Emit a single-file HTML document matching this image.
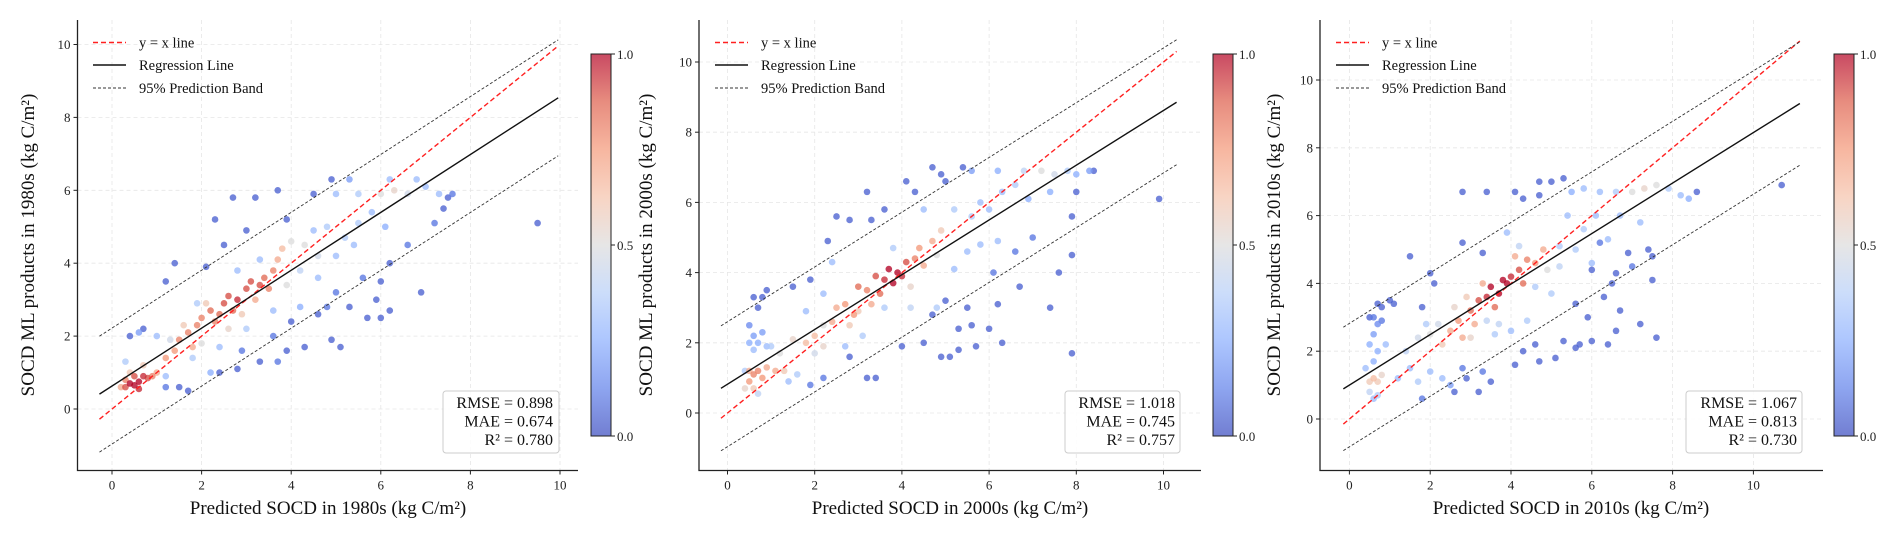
<!DOCTYPE html>
<html><head><meta charset="utf-8">
<style>
html,body{margin:0;padding:0;background:#fff;}
svg{display:block;font-family:"Liberation Serif",serif;}
</style></head>
<body>
<svg id="chart" width="1892" height="539" viewBox="0 0 1892 539" xmlns="http://www.w3.org/2000/svg">
<defs>
<linearGradient id="cw" x1="0" y1="1" x2="0" y2="0">
<stop offset="0" stop-color="#3b4cc0" stop-opacity="0.72"/>
<stop offset="0.125" stop-color="#6282ea" stop-opacity="0.72"/>
<stop offset="0.25" stop-color="#8db0fe" stop-opacity="0.72"/>
<stop offset="0.375" stop-color="#b8d0f9" stop-opacity="0.72"/>
<stop offset="0.5" stop-color="#dddcdc" stop-opacity="0.72"/>
<stop offset="0.625" stop-color="#f5c4ad" stop-opacity="0.72"/>
<stop offset="0.75" stop-color="#f49a7b" stop-opacity="0.72"/>
<stop offset="0.875" stop-color="#de604d" stop-opacity="0.72"/>
<stop offset="1" stop-color="#b40426" stop-opacity="0.72"/>
</linearGradient>
</defs>
</svg>
<script>
// ---- data (x = predicted, y = ML product, d = density 0..1) ----
const xTicks = [0,2,4,6,8,10];
const yTicks = [0,2,4,6,8,10];
const cbTicks = ["0.0","0.5","1.0"];
const cbTickVals = [0,0.5,1];
const legendLabels = ["y = x line","Regression Line","95% Prediction Band"];

const p1Title = "1980s";
const p1Stats = ["RMSE = 0.898","MAE = 0.674","R² = 0.780"];
const p1Reg = [0.794, 0.63, 1.59]; // slope, intercept, band half-width
const p1Range = [-0.28, 9.96];
const p1x=[0.3,0.4,0.5,0.6,0.7,0.5,0.8,0.3,0.6,0.9,0.4,0.2,1.0,0.7,1.2,1.4,1.5,1.7,1.9,2.0,2.2,2.4,2.5,2.6,2.8,2.7,3.0,3.1,3.3,3.4,3.6,3.7,3.5,2.3,1.8,2.9,3.2,1.6,2.1,3.8,4.0,4.3,4.6,3.9,2.6,2.0,1.3,4.8,5.2,5.5,5.0,5.5,6.0,6.3,6.6,7.0,7.3,6.8,6.2,5.3,4.5,4.2,4.6,5.0,3.6,3.0,2.4,1.8,2.2,4.2,5.4,5.8,6.1,3.3,2.8,1.9,1.0,0.6,0.3,1.2,0.4,0.7,1.4,1.2,2.1,2.3,2.7,3.2,3.7,3.9,3.0,2.5,4.5,4.9,5.9,6.2,6.0,5.7,5.1,4.9,4.3,3.9,3.3,2.8,2.4,1.7,1.5,1.2,6.9,7.5,7.6,9.5,6.2,5.3,4.6,4.0,3.6,7.4,6.6,7.2,5.6,6.0,5.0,4.8,3.7,2.9];
const p1y=[0.6,0.7,0.65,0.75,0.9,0.9,0.85,0.8,0.55,0.9,1.0,0.6,1.0,1.2,1.4,1.6,1.9,2.1,2.3,2.5,2.7,2.6,2.9,3.1,3.0,2.7,3.3,3.5,3.4,3.6,3.8,4.1,3.3,2.4,1.7,2.6,3.0,2.3,2.9,4.4,4.6,4.5,4.2,3.4,2.2,1.8,1.9,5.0,4.7,5.1,5.9,5.9,5.9,6.0,5.9,6.1,5.9,6.3,6.3,6.3,4.9,3.8,3.6,4.2,2.7,2.2,1.7,1.4,1.0,2.8,4.5,5.4,5.0,4.1,3.8,2.9,2.0,2.1,1.3,0.9,2.0,2.2,4.0,3.5,3.9,5.2,5.8,5.8,6.0,5.2,4.9,4.5,5.9,6.3,3.0,2.7,2.5,2.5,1.7,1.9,1.7,1.6,1.3,1.1,1.0,0.5,0.6,0.6,3.2,5.8,5.9,5.1,4.0,2.8,2.6,2.4,2.0,5.5,4.5,5.1,3.6,3.5,3.2,2.8,1.3,1.6];
const p1d=[0.9,1,1,1,0.95,0.9,0.9,0.8,0.95,0.8,0.6,0.7,0.7,0.6,0.75,0.75,0.8,0.8,0.8,0.8,0.85,0.85,0.9,0.9,0.95,0.85,0.9,0.9,0.9,0.85,0.8,0.7,0.8,0.8,0.7,0.6,0.7,0.6,0.6,0.65,0.5,0.5,0.45,0.5,0.55,0.5,0.45,0.35,0.35,0.35,0.3,0.35,0.5,0.55,0.45,0.3,0.3,0.3,0.3,0.2,0.3,0.4,0.3,0.3,0.3,0.35,0.3,0.35,0.25,0.25,0.3,0.3,0.25,0.3,0.3,0.35,0.3,0.2,0.35,0.3,0.05,0.05,0.05,0.05,0.05,0.05,0.05,0.05,0.05,0.05,0.05,0.05,0.05,0.05,0.05,0.05,0.05,0.05,0.05,0.05,0.05,0.05,0.05,0.05,0.05,0.05,0.05,0.1,0.05,0.05,0.1,0.05,0.05,0.05,0.05,0.05,0.1,0.05,0.1,0.1,0.1,0.05,0.1,0.1,0.1,0.1];

const p2Title = "2000s";
const p2Stats = ["RMSE = 1.018","MAE = 0.745","R² = 0.757"];
const p2Reg = [0.78, 0.82, 1.78];
const p2Range = [-0.15, 10.3];
const p2x=[0.5,0.6,0.7,0.8,0.5,0.9,1.1,0.6,0.4,1.3,0.7,0.5,0.6,0.7,0.6,0.8,0.7,0.8,0.9,0.6,0.5,0.9,0.4,1.2,1.5,1.8,2.0,2.2,2.4,2.5,2.7,2.9,3.0,3.2,3.4,3.6,3.7,3.8,3.9,4.0,4.1,3.5,4.3,4.5,4.4,4.7,4.9,3.3,2.8,2.2,3.0,4.2,4.8,2.0,1.6,1.4,5.2,5.6,5.8,6.0,6.3,6.6,6.8,7.2,7.5,7.8,8.0,8.3,6.2,5.6,5.2,5.5,6.2,4.8,4.2,3.6,3.1,2.7,3.8,4.5,5.8,6.9,7.4,1.8,2.2,1.0,2.4,1.5,1.9,2.3,2.5,2.8,3.2,3.3,3.6,4.1,4.3,4.7,5.0,5.4,4.9,3.2,3.4,2.8,4.0,4.5,4.9,5.1,5.3,5.7,6.3,6.0,5.6,5.3,7.4,7.6,7.9,7.9,8.0,8.4,9.9,7.9,6.2,6.7,6.6,7.0,6.1,5.0,5.5,4.7,2.2,1.9,1.4];
const p2y=[0.9,1.1,1.2,1.0,1.2,1.3,1.2,0.7,0.7,1.2,0.55,2.5,2.2,2.0,1.8,2.3,3.0,3.3,3.5,3.3,2.0,1.9,1.2,1.7,2.1,2.0,2.2,1.9,2.6,3.0,3.1,2.8,3.6,3.5,3.9,3.8,4.1,3.7,4.0,3.9,4.3,3.4,4.4,4.2,4.7,4.9,5.2,3.1,2.5,2.5,2.9,3.6,4.5,1.7,1.1,0.9,5.8,5.6,4.8,5.8,6.3,6.5,6.9,6.9,6.8,6.9,6.8,6.9,6.9,6.9,4.1,4.6,4.9,3.0,3.0,3.0,2.2,1.9,4.7,5.8,6.0,6.1,6.3,2.9,3.4,1.9,4.3,3.6,3.8,4.9,5.6,5.5,6.3,5.5,5.8,6.6,6.3,7.0,6.6,7.0,6.8,1.0,1.0,1.6,1.9,2.0,1.6,1.6,1.8,1.9,2.0,2.4,2.5,2.4,3.0,4.0,4.5,5.6,6.3,6.9,6.1,1.7,3.1,3.6,4.6,5.0,4.0,3.2,3.0,2.8,1.0,0.8,0.6];
const p2d=[0.75,0.8,0.8,0.75,0.7,0.7,0.7,0.6,0.55,0.6,0.4,0.15,0.2,0.25,0.3,0.2,0.05,0.05,0.05,0.05,0.25,0.3,0.35,0.5,0.55,0.65,0.65,0.55,0.7,0.7,0.75,0.75,0.85,0.8,0.9,0.95,1,1,1,0.95,0.9,0.85,0.8,0.7,0.75,0.7,0.6,0.7,0.6,0.5,0.6,0.55,0.5,0.45,0.35,0.3,0.35,0.35,0.3,0.3,0.3,0.35,0.4,0.5,0.45,0.35,0.25,0.2,0.25,0.2,0.3,0.3,0.3,0.35,0.4,0.35,0.35,0.3,0.35,0.3,0.3,0.25,0.25,0.3,0.3,0.35,0.3,0.05,0.05,0.05,0.05,0.05,0.05,0.05,0.05,0.05,0.05,0.05,0.05,0.05,0.05,0.05,0.05,0.05,0.05,0.05,0.05,0.05,0.05,0.05,0.05,0.05,0.05,0.05,0.05,0.05,0.05,0.05,0.05,0.05,0.05,0.05,0.05,0.05,0.1,0.1,0.1,0.05,0.05,0.05,0.1,0.1];

const p3Title = "2010s";
const p3Stats = ["RMSE = 1.067","MAE = 0.813","R² = 0.730"];
const p3Reg = [0.745, 1.0, 1.82];
const p3Range = [-0.15, 11.15];
const p3x=[0.5,0.6,0.7,0.5,0.6,0.7,0.8,0.4,0.6,0.7,0.5,0.6,0.7,0.6,0.7,0.8,0.8,0.5,1.0,1.1,0.9,1.2,1.5,1.7,2.0,2.3,2.5,1.8,2.6,3.2,2.9,3.5,3.3,2.8,4.1,4.7,5.1,4.3,4.6,5.3,5.6,5.7,6.0,6.4,6.6,7.2,7.6,5.9,5.6,6.7,1.4,1.7,2.0,2.3,2.5,2.7,2.8,3.0,3.1,3.2,3.4,3.5,3.7,3.8,3.9,4.0,4.2,4.3,3.6,4.4,4.6,4.8,4.1,3.3,2.9,2.6,2.2,4.9,5.2,3.0,3.7,5.2,5.6,6.0,5.8,5.4,6.1,6.7,7.2,7.0,7.3,7.6,6.6,6.2,5.8,5.5,7.9,8.2,8.4,6.4,4.6,5.0,4.4,3.6,4.0,3.4,4.2,3.9,1.9,1.5,2.0,2.1,1.8,2.8,2.8,3.4,3.3,4.1,4.3,4.7,5.0,5.3,4.7,8.6,10.7,7.5,7.5,7.4,6.9,6.5,6.6,6.0,6.3,7.0,6.2];
const p3y=[0.8,0.6,0.7,1.1,1.2,1.1,1.3,1.5,1.7,2.0,2.2,2.5,2.8,3.0,3.4,2.9,3.3,3.0,3.5,3.4,2.2,1.2,1.5,1.1,1.4,1.2,1.0,0.6,0.8,0.8,1.2,1.1,1.4,1.5,1.6,1.7,1.8,2.0,2.2,2.3,2.1,2.2,2.3,2.2,2.6,2.8,2.4,3.0,3.4,3.2,2.0,2.4,2.5,2.2,2.6,2.9,2.4,3.2,2.8,3.5,3.6,3.9,3.7,4.1,4.0,4.2,4.4,4.0,3.3,4.7,4.6,5.0,4.8,4.0,3.6,3.3,2.8,4.4,4.5,2.4,2.8,5.1,5.0,4.6,5.6,6.0,6.0,6.0,5.8,6.7,6.8,6.9,6.7,6.7,6.8,6.7,6.8,6.6,6.5,5.3,3.9,3.7,2.9,2.5,2.6,2.9,5.1,5.5,2.8,4.8,4.3,4.0,3.3,6.7,5.2,6.7,4.9,6.7,6.5,7.0,7.0,7.1,6.6,6.7,6.9,4.8,4.1,5.0,4.9,4.0,4.3,4.4,3.6,4.5,5.2];
const p3d=[0.4,0.3,0.35,0.6,0.65,0.6,0.55,0.3,0.25,0.25,0.25,0.2,0.15,0.1,0.05,0.1,0.05,0.05,0.05,0.05,0.3,0.3,0.3,0.35,0.3,0.3,0.2,0.1,0.05,0.05,0.05,0.05,0.1,0.1,0.05,0.05,0.05,0.05,0.05,0.05,0.05,0.05,0.05,0.05,0.05,0.05,0.05,0.05,0.05,0.05,0.4,0.45,0.5,0.6,0.7,0.75,0.7,0.85,0.7,0.9,0.95,1,1,1,1,0.95,0.9,0.85,0.85,0.8,0.75,0.7,0.7,0.7,0.6,0.55,0.45,0.5,0.4,0.55,0.4,0.35,0.35,0.3,0.35,0.3,0.3,0.3,0.3,0.5,0.55,0.5,0.35,0.3,0.3,0.25,0.35,0.3,0.25,0.3,0.35,0.35,0.35,0.35,0.3,0.4,0.4,0.3,0.35,0.05,0.05,0.05,0.05,0.05,0.05,0.05,0.05,0.05,0.05,0.05,0.05,0.05,0.05,0.05,0.05,0.05,0.05,0.05,0.05,0.05,0.05,0.05,0.05,0.1,0.1];

// ---- layout ----
const panels = [
  {id:"p1", title:p1Title, xs:p1x, ys:p1y, ds:p1d, stats:p1Stats, reg:p1Reg, range:p1Range,
   x0:112, xu:44.8, y0:409, yu:36.45, left:77.5, right:578, top:20, bottom:470.5,
   cbx:591, legX:93, statR:553, statBox:[443,391,116,62], ylabX:28, xlabC:328},
  {id:"p2", title:p2Title, xs:p2x, ys:p2y, ds:p2d, stats:p2Stats, reg:p2Reg, range:p2Range,
   x0:727.5, xu:43.6, y0:413, yu:35.1, left:699, right:1201, top:20, bottom:470.5,
   cbx:1213, legX:715, statR:1175, statBox:[1065,391,115,62], ylabX:646, xlabC:950},
  {id:"p3", title:p3Title, xs:p3x, ys:p3y, ds:p3d, stats:p3Stats, reg:p3Reg, range:p3Range,
   x0:1349.4, xu:40.4, y0:419, yu:33.9, left:1320, right:1823, top:20, bottom:470.5,
   cbx:1834, legX:1336, statR:1797, statBox:[1686,391,116,62], ylabX:1274, xlabC:1571}
];

const NS="http://www.w3.org/2000/svg";
const svg=document.getElementById('chart');
function mk(tag, attrs, parent){
  const e=document.createElementNS(NS,tag);
  for(const k in attrs) e.setAttribute(k,attrs[k]);
  (parent||svg).appendChild(e); return e;
}
const stops=[[0,[59,76,192]],[0.125,[98,130,234]],[0.25,[141,176,254]],[0.375,[184,208,249]],[0.5,[221,220,220]],[0.625,[245,196,173]],[0.75,[244,154,123]],[0.875,[222,96,77]],[1,[180,4,38]]];
function cmap(t){
  t=Math.max(0,Math.min(1,t));
  for(let i=1;i<stops.length;i++){
    if(t<=stops[i][0]){
      const a=stops[i-1],b=stops[i],f=(t-a[0])/(b[0]-a[0]);
      const c=a[1].map((v,j)=>Math.round(v+(b[1][j]-v)*f));
      return `rgb(${c[0]},${c[1]},${c[2]})`;
    }
  }
  return 'rgb(180,4,38)';
}

panels.forEach(p=>{
  const X=v=>p.x0+p.xu*v, Y=v=>p.y0-p.yu*v;
  const g=mk('g',{});
  
  
  xTicks.forEach(t=>{ if(X(t)<p.right){ const l=mk('line',{x1:X(t),x2:X(t),y1:p.top,y2:p.bottom,stroke:'#e6e6e6','stroke-width':0.8,'stroke-dasharray':'4,3'},g);
     }});
  yTicks.forEach(t=>{ if(Y(t)>p.top){ const l=mk('line',{x1:p.left,x2:p.right,y1:Y(t),y2:Y(t),stroke:'#e6e6e6','stroke-width':0.8,'stroke-dasharray':'4,3'},g);
     }});
  const pts=mk('g',{},g);
   
  const order=p.ds.map((d,i)=>i).sort((a,b)=>p.ds[a]-p.ds[b]);
  order.forEach(i=>{
    const c=mk('circle',{cx:X(p.xs[i]),cy:Y(p.ys[i]),r:3.3,fill:cmap(p.ds[i]),'fill-opacity':0.78},pts);
    
    
  });
  const [a,b,w]=p.reg, [r0,r1]=p.range;
  const yx=mk('line',{x1:X(r0),y1:Y(r0),x2:X(r1),y2:Y(r1),stroke:'#ff2020','stroke-width':1.4,'stroke-dasharray':'5,3'},g);
   
  const rl=mk('line',{x1:X(r0),y1:Y(a*r0+b),x2:X(r1),y2:Y(a*r1+b),stroke:'#111','stroke-width':1.4},g);
   
  [w,-w].forEach((o,k)=>{
    const bl=mk('line',{x1:X(r0),y1:Y(a*r0+b+o),x2:X(r1),y2:Y(a*r1+b+o),stroke:'#333','stroke-width':0.9,'stroke-dasharray':'3,2'},g);
     
  });
  const sp=mk('path',{d:`M${p.left},${p.top} V${p.bottom} H${p.right}`,fill:'none',stroke:'#222','stroke-width':1.3},g);
   
  xTicks.forEach(t=>{ if(X(t)>p.right) return;
    mk('line',{x1:X(t),x2:X(t),y1:p.bottom,y2:p.bottom+4,stroke:'#222','stroke-width':1},g);
    const tx=mk('text',{x:X(t),y:p.bottom+19,'text-anchor':'middle','font-size':13,fill:'#222'},g);
    tx.textContent=t;  
  });
  yTicks.forEach(t=>{ if(Y(t)<p.top) return;
    mk('line',{x1:p.left-4,x2:p.left,y1:Y(t),y2:Y(t),stroke:'#222','stroke-width':1},g);
    const tx=mk('text',{x:p.left-7,y:Y(t)+4.5,'text-anchor':'end','font-size':13,fill:'#222'},g);
    tx.textContent=t;  
  });
  const xl=mk('text',{x:p.xlabC,y:514,'text-anchor':'middle','font-size':19,fill:'#111'},g);
  xl.textContent=`Predicted SOCD in ${p.title} (kg C/m²)`;
   
  const yl=mk('text',{x:0,y:0,'text-anchor':'middle','font-size':19,fill:'#111',transform:`translate(${p.ylabX+6},245) rotate(-90)`},g);
  yl.textContent=`SOCD ML products in ${p.title} (kg C/m²)`;
   
  const lg=mk('g',{},g);
   
  const ly=[42.5,65,88];
  const styles=[{stroke:'#ff2020','stroke-width':1.4,'stroke-dasharray':'5,3'},{stroke:'#111','stroke-width':1.4},{stroke:'#333','stroke-width':0.9,'stroke-dasharray':'3,2'}];
  legendLabels.forEach((lab,i)=>{
    const e=mk('g',{},lg);
     
    mk('line',Object.assign({x1:p.legX,x2:p.legX+33,y1:ly[i],y2:ly[i]},styles[i]),e);
    const t=mk('text',{x:p.legX+46,y:ly[i]+5,'font-size':14.5,fill:'#111'},e);
    t.textContent=lab;
  });
  const sb=p.statBox;
  const sg=mk('g',{},g);
   
  mk('rect',{x:sb[0],y:sb[1],width:sb[2],height:sb[3],rx:3,fill:'#fff','fill-opacity':0.85,stroke:'#ccc','stroke-width':1},sg);
  p.stats.forEach((s,i)=>{
    const t=mk('text',{x:p.statR,y:408+i*18.5,'text-anchor':'end','font-size':16,fill:'#111'},sg);
    t.textContent=s;
  });
  const cb=mk('g',{},g);
   
  const cbTop=54, cbBot=436;
  mk('rect',{x:p.cbx,y:cbTop,width:20,height:cbBot-cbTop,fill:'url(#cw)',stroke:'#222','stroke-width':1},cb);
  cbTickVals.forEach((v,i)=>{
    const yy=cbBot-(cbBot-cbTop)*v;
    mk('line',{x1:p.cbx+20,x2:p.cbx+24,y1:yy,y2:yy,stroke:'#222','stroke-width':1},cb);
    const t=mk('text',{x:p.cbx+26,y:yy+5,'font-size':13,fill:'#222'},cb);
    t.textContent=cbTicks[i];
     
  });
});
</script>
</body></html>
